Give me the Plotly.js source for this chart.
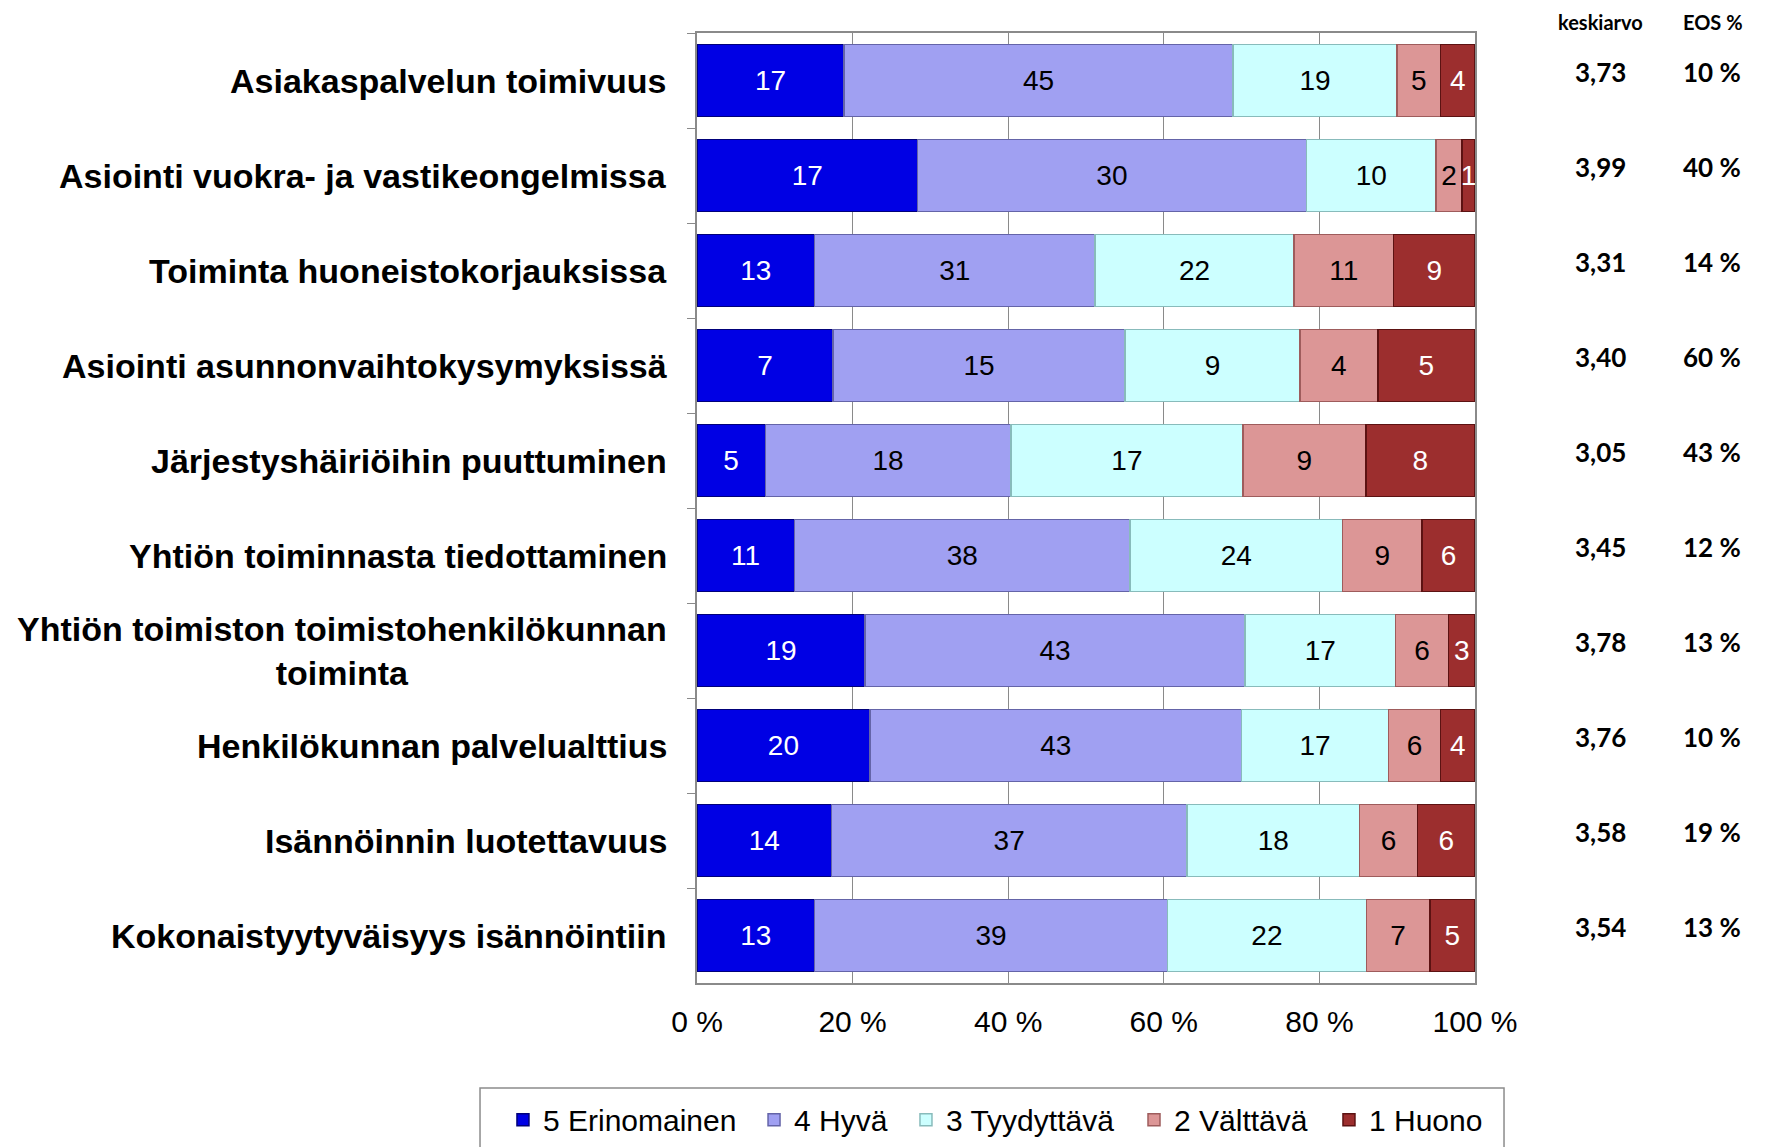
<!DOCTYPE html>
<html>
<head>
<meta charset="utf-8">
<script src="https://cdn.plot.ly/plotly-3.0.1.min.js"></script>
<style>
  html, body { margin: 0; padding: 0; background: #ffffff; }
  #chart { width: 1766px; height: 1147px; }
</style>
</head>
<body>
<div id="chart"></div>
<script>
const categories = [
  "Asiakaspalvelun toimivuus",
  "Asiointi vuokra- ja vastikeongelmissa",
  "Toiminta huoneistokorjauksissa",
  "Asiointi asunnonvaihtokysymyksissä",
  "Järjestyshäiriöihin puuttuminen",
  "Yhtiön toiminnasta tiedottaminen",
  "Yhtiön toimiston toimistohenkilökunnan<br>toiminta",
  "Henkilökunnan palvelualttius",
  "Isännöinnin luotettavuus",
  "Kokonaistyytyväisyys isännöintiin"
];
const seriesNames = ["5 Erinomainen", "4 Hyvä", "3 Tyydyttävä", "2 Välttävä", "1 Huono"];
const erinomainen = [17, 17, 13, 7, 5, 11, 19, 20, 14, 13];
const hyva        = [45, 30, 31, 15, 18, 38, 43, 43, 37, 39];
const tyydyttava  = [19, 10, 22, 9, 17, 24, 17, 17, 18, 22];
const valttava    = [5, 2, 11, 4, 9, 9, 6, 6, 6, 7];
const huono       = [4, 1, 9, 5, 8, 6, 3, 4, 6, 5];
const keskiarvo = ["3,73", "3,99", "3,31", "3,40", "3,05", "3,45", "3,78", "3,76", "3,58", "3,54"];
const eosPct    = ["10 %", "40 %", "14 %", "60 %", "43 %", "12 %", "13 %", "10 %", "19 %", "13 %"];
const xTickVals = [0, 20, 40, 60, 80, 100];
const xTickText = ["0 %", "20 %", "40 %", "60 %", "80 %", "100 %"];
const headerKeskiarvo = "keskiarvo";
const headerEos = "EOS %";

const seriesValues = [erinomainen, hyva, tyydyttava, valttava, huono];
const faceColors = ["#0000E4", "#A0A0F2", "#CCFFFF", "#DC9696", "#9C2E2E"];
const edgeColors = ["#00007A", "#6464A8", "#88BBBB", "#9E5C5C", "#5C1212"];
const textColors = ["#FFFFFF", "#000000", "#000000", "#000000", "#FFFFFF"];
const legendIds = ["legend", "legend2", "legend3", "legend4", "legend5"];
const legendX = [-0.2494, 0.0733, 0.2686, 0.5617, 0.8123];

const traces = seriesValues.map((vals, i) => ({
  type: "bar",
  orientation: "h",
  name: seriesNames[i],
  legend: legendIds[i],
  y: categories,
  x: vals,
  text: vals.map(String),
  textposition: "inside",
  insidetextanchor: "middle",
  textangle: 0,
  textfont: { family: "Liberation Sans, Arial, sans-serif", size: 28, color: textColors[i] },
  marker: { color: faceColors[i], line: { color: edgeColors[i], width: 1.5 } },
  hoverinfo: "skip"
}));

const annotations = [];
categories.forEach((c, i) => {
  annotations.push({
    xref: "paper", yref: "y", x: 0, y: c, xshift: -28,
    xanchor: "right", yanchor: "middle", align: "center",
    text: c, showarrow: false,
    font: { family: "Liberation Sans, Arial, sans-serif", size: 34, color: "#000000", weight: "bold" }
  });
  annotations.push({
    xref: "paper", yref: "y", x: 1.1607, y: c, yshift: 9,
    xanchor: "center", yanchor: "middle",
    text: keskiarvo[i], showarrow: false,
    font: { family: "Lato, Carlito, sans-serif", size: 26, color: "#000000", weight: "bold" }
  });
  annotations.push({
    xref: "paper", yref: "y", x: 1.304, y: c, yshift: 9,
    xanchor: "center", yanchor: "middle",
    text: eosPct[i], showarrow: false,
    font: { family: "Lato, Carlito, sans-serif", size: 26, color: "#000000", weight: "bold" }
  });
});
annotations.push({
  xref: "paper", yref: "paper", x: 1.1607, y: 1.0116,
  xanchor: "center", yanchor: "middle", text: headerKeskiarvo, showarrow: false,
  font: { family: "Lato, Carlito, sans-serif", size: 20, color: "#000000", weight: "bold" }
});
annotations.push({
  xref: "paper", yref: "paper", x: 1.306, y: 1.0116,
  xanchor: "center", yanchor: "middle", text: headerEos, showarrow: false,
  font: { family: "Lato, Carlito, sans-serif", size: 20, color: "#000000", weight: "bold" }
});

const layout = {
  width: 1766,
  height: 1147,
  margin: { l: 697, r: 291, t: 33, b: 164, pad: 0, autoexpand: false },
  paper_bgcolor: "#FFFFFF",
  plot_bgcolor: "#FFFFFF",
  barmode: "stack",
  barnorm: "percent",
  bargap: 0.24,
  uniformtext: { minsize: 28, mode: "show" },
  showlegend: true,
  xaxis: {
    range: [0, 100],
    tickvals: xTickVals,
    ticktext: xTickText,
    tickfont: { family: "Liberation Sans, Arial, sans-serif", size: 30, color: "#000000" },
    showgrid: true,
    gridcolor: "#8A8A8A",
    gridwidth: 1,
    showline: true,
    linecolor: "#8A8A8A",
    linewidth: 2,
    mirror: true,
    ticks: "",
    ticklabelstandoff: 11,
    zeroline: false,
    fixedrange: true,
    automargin: false
  },
  yaxis: {
    type: "category",
    autorange: "reversed",
    showticklabels: false,
    showline: true,
    linecolor: "#8A8A8A",
    linewidth: 2,
    mirror: true,
    ticks: "outside",
    tickson: "boundaries",
    ticklen: 8,
    tickcolor: "#8A8A8A",
    showgrid: false,
    zeroline: false,
    fixedrange: true,
    automargin: false
  },
  shapes: [{
    type: "rect", xref: "paper", yref: "paper",
    x0: -0.2789, x1: 1.0373, y0: -0.1105, y1: -0.20,
    line: { color: "#8C8C8C", width: 1.5 },
    fillcolor: "rgba(0,0,0,0)",
    layer: "below"
  }],
  annotations: annotations
};

legendIds.forEach((id, i) => {
  layout[id] = {
    orientation: "h",
    x: legendX[i], xanchor: "left",
    y: -0.1165, yanchor: "top",
    borderwidth: 0,
    bgcolor: "rgba(0,0,0,0)",
    font: { family: "Liberation Sans, Arial, sans-serif", size: 30, color: "#000000" },
    itemclick: false
  };
});

Plotly.newPlot("chart", traces, layout, { staticPlot: true, displayModeBar: false });
</script>
</body>
</html>
